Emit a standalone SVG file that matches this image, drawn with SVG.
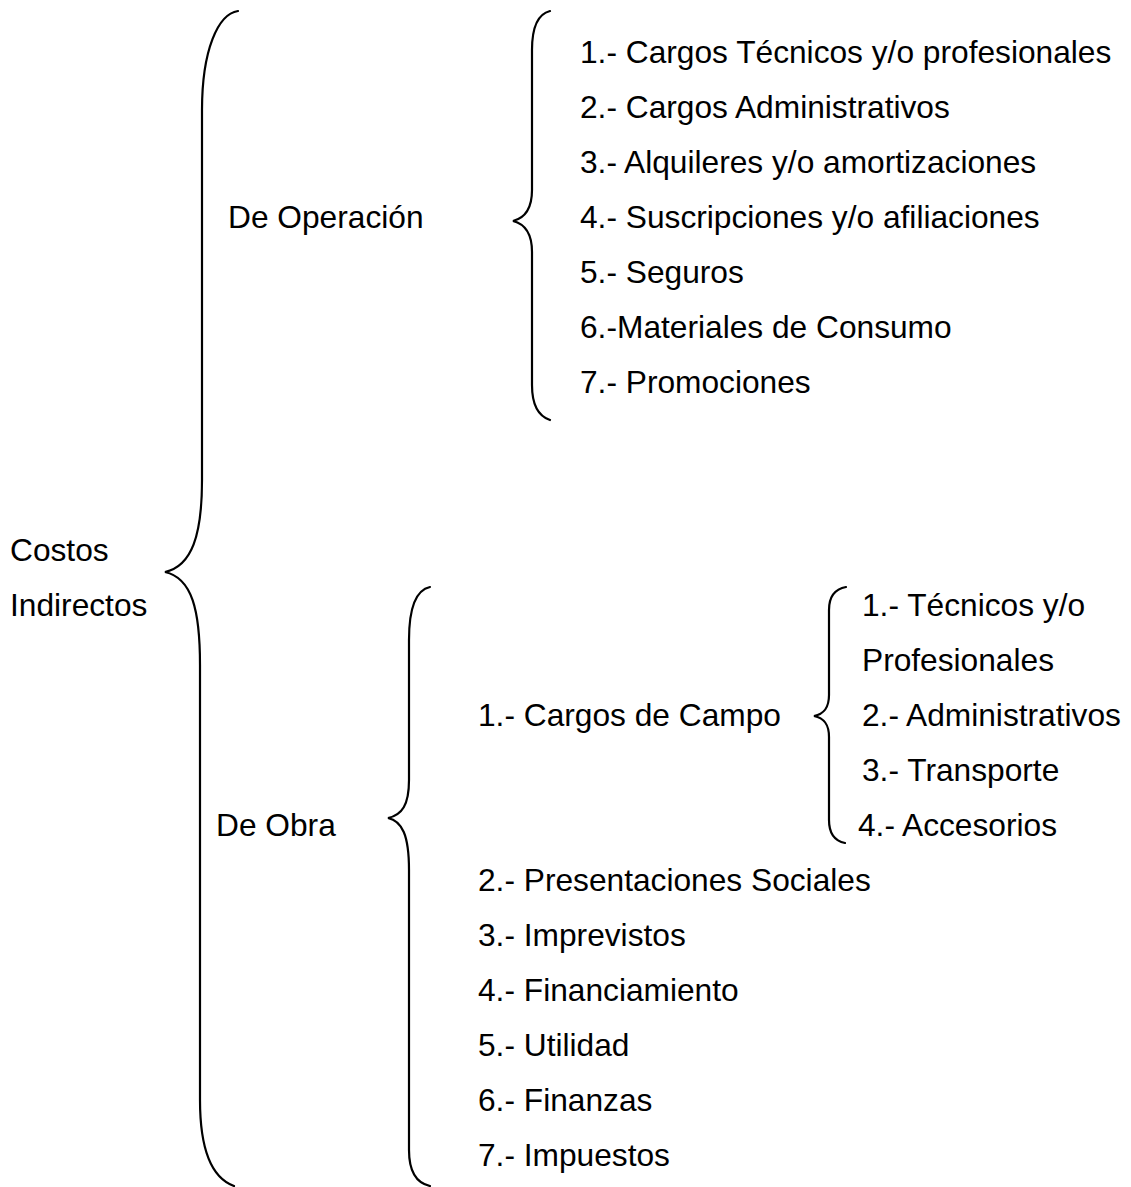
<svg xmlns="http://www.w3.org/2000/svg" width="1131" height="1187" viewBox="0 0 1131 1187">
<style>
text{font-family:"Liberation Sans",Arial,sans-serif;font-size:31.7px;fill:#000}
.br{fill:none;stroke:#000;stroke-width:2.2;stroke-linecap:round}
</style>
<rect width="1131" height="1187" fill="#fff"/>
<g id="connectors">
<path class="br" d="M238,11 C218,14 202,50 202,110 L202,480 C202,535 192,566 165,572 C192,578 200,610 200,665 L200,1100 C200,1150 212,1178 234,1186"/>
<path class="br" d="M550,11 C538,14 532,28 532,50 L532,190 C532,208 525,218 513,221 C525,224 532,234 532,252 L532,385 C532,405 538,416 550,420"/>
<path class="br" d="M430,587 C416,590 409,608 409,640 L409,780 C409,805 402,815 388,818 C402,821 409,835 409,870 L409,1150 C409,1172 416,1183 430,1186"/>
<path class="br" d="M846,587 C835,589 829,596 829,610 L829,695 C829,708 824,714 814,716 C824,718 829,724 829,737 L829,820 C829,834 835,841 845,843"/>
</g>
<g id="costos-indirectos"><text x="10" y="561">Costos</text><text x="10" y="616">Indirectos</text></g>
<g id="de-operacion"><text x="228" y="228">De Operación</text></g>
<g id="operacion-items">
<text x="580" y="63">1.- Cargos Técnicos y/o profesionales</text>
<text x="580" y="118">2.- Cargos Administrativos</text>
<text x="580" y="173">3.- Alquileres y/o amortizaciones</text>
<text x="580" y="228">4.- Suscripciones y/o afiliaciones</text>
<text x="580" y="283">5.- Seguros</text>
<text x="580" y="338">6.-Materiales de Consumo</text>
<text x="580" y="393">7.- Promociones</text>
</g>
<g id="de-obra"><text x="216" y="836">De Obra</text></g>
<g id="cargos-campo"><text x="478" y="726">1.- Cargos de Campo</text></g>
<g id="campo-items">
<text x="862" y="616">1.- Técnicos y/o</text>
<text x="862" y="671">Profesionales</text>
<text x="862" y="726">2.- Administrativos</text>
<text x="862" y="781">3.- Transporte</text>
<text x="858" y="836">4.- Accesorios</text>
</g>
<g id="obra-items">
<text x="478" y="891">2.- Presentaciones Sociales</text>
<text x="478" y="946">3.- Imprevistos</text>
<text x="478" y="1001">4.- Financiamiento</text>
<text x="478" y="1056">5.- Utilidad</text>
<text x="478" y="1111">6.- Finanzas</text>
<text x="478" y="1166">7.- Impuestos</text>
</g>
</svg>
